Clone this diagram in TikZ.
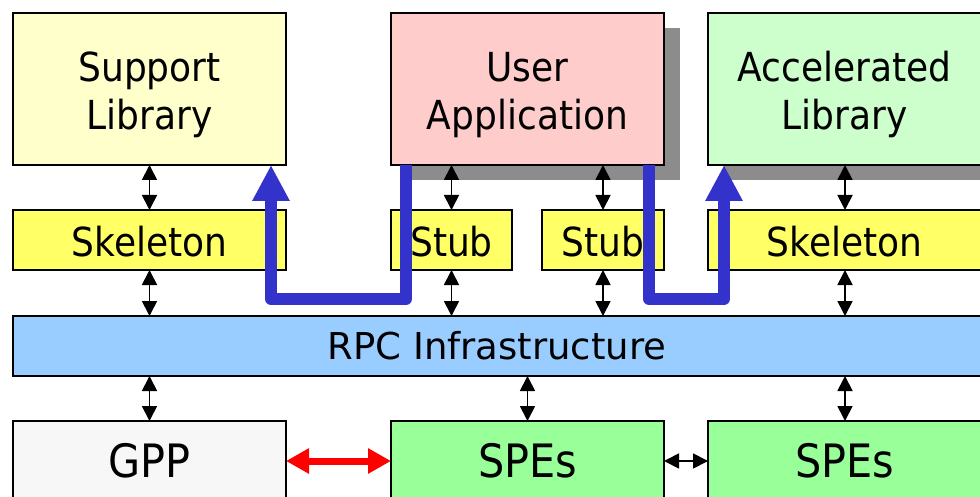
\documentclass[tikz,border=0pt]{standalone}
\usepackage{fontspec}
\setmainfont{DejaVu Sans}
\newfontfamily\condfont{DejaVu Sans Condensed}
\usetikzlibrary{arrows.meta}
\definecolor{supc}{HTML}{FFFFCC}
\definecolor{usrc}{HTML}{FFCCCC}
\definecolor{accc}{HTML}{CCFFCC}
\definecolor{skc}{HTML}{FFFF66}
\definecolor{rpcc}{HTML}{99CCFF}
\definecolor{gppc}{HTML}{F7F7F7}
\definecolor{spec}{HTML}{99FF99}
\definecolor{shc}{HTML}{8C8C8C}
\definecolor{bluc}{HTML}{3333CC}
\tikzset{
  box/.style={draw=black, line width=1.8pt, inner sep=0pt, outer sep=0pt},
  lbl/.style={inner sep=0pt, anchor=base, align=center, font=\condfont\fontsize{40}{48}\selectfont},
  biglbl/.style={inner sep=0pt, anchor=base, font=\condfont\fontsize{46}{50}\selectfont},
  rpclbl/.style={inner sep=0pt, anchor=base, font=\fontsize{37}{44}\selectfont},
  biarrow/.style={line width=1.8pt, {Triangle[width=15pt,length=15pt]}-{Triangle[width=15pt,length=15pt]}},
  redarrow/.style={draw=red, line width=7pt, {Triangle[width=24pt,length=23pt]}-{Triangle[width=24pt,length=23pt]}},
  bluearrow/.style={draw=bluc, line width=12pt, line join=round, -{Triangle[width=35pt,length=36pt]}},
  shadow/.style={fill=shc, draw=none}
}
\begin{document}
\begin{tikzpicture}[x=1pt,y=-1pt]
\useasboundingbox (0,0) rectangle (980,497);
\clip (0,0) rectangle (980,497);
% shadows
\fill[shadow] (407,28) rectangle (680,180);
\fill[shadow] (724,28) rectangle (1010,180);
% top row
\node[box, fill=supc, minimum width=273pt, minimum height=152pt] (sup) at (149.5,89) {};
\node[box, fill=usrc, minimum width=273pt, minimum height=152pt] (usr) at (527.5,89) {};
\node[box, fill=accc, minimum width=273pt, minimum height=152pt, anchor=west] (acc) at (708,89) {};
\node[lbl] (supt) at (149.5,130) {Support\\Library};
\node[lbl] (usrt) at (527.5,130) {User\\Application};
\node[lbl] (acct) at (844.5,130) {Accelerated\\Library};
% second row
\node[box, fill=skc, minimum width=273pt, minimum height=60pt] (skl) at (149.5,240) {};
\node[box, fill=skc, minimum width=121pt, minimum height=60pt] (st1) at (451.5,240) {};
\node[box, fill=skc, minimum width=122pt, minimum height=60pt] (st2) at (603,240) {};
\node[box, fill=skc, minimum width=273pt, minimum height=60pt, anchor=west] (skr) at (708,240) {};
\node[lbl] (sklt) at (149.5,257) {Skeleton};
\node[lbl] (st1t) at (451.5,257) {Stub};
\node[lbl] (st2t) at (603,257) {Stub};
\node[lbl] (skrt) at (844.5,257) {Skeleton};
% RPC
\node[box, fill=rpcc, minimum width=1000pt, minimum height=60pt, anchor=west] (rpc) at (13,346) {};
\node[rpclbl] (rpct) at (497,359) {RPC Infrastructure};
% bottom row
\node[box, fill=gppc, minimum width=273pt, minimum height=90pt, anchor=north] (gpp) at (149.5,421) {};
\node[box, fill=spec, minimum width=273pt, minimum height=90pt, anchor=north] (spe1) at (527.5,421) {};
\node[box, fill=spec, minimum width=273pt, minimum height=90pt, anchor=north west] (spe2) at (708,421) {};
\node[biglbl] (gppt) at (149.5,477) {GPP};
\node[biglbl] (spe1t) at (527.5,477) {SPEs};
\node[biglbl] (spe2t) at (845,477) {SPEs};
% black bidirectional arrows
\draw[biarrow] (sup.south -| skl.north) -- (skl.north);
\draw[biarrow] (skl.south) -- (skl.south |- rpc.north);
\draw[biarrow] (usr.south -| st1.north) -- (st1.north);
\draw[biarrow] (st1.south) -- (st1.south |- rpc.north);
\draw[biarrow] (usr.south -| st2.north) -- (st2.north);
\draw[biarrow] (st2.south) -- (st2.south |- rpc.north);
\coordinate (skrx) at (845,240);
\draw[biarrow] (acc.south -| skrx) -- (skr.north -| skrx);
\draw[biarrow] (skr.south -| skrx) -- (rpc.north -| skrx);
\draw[biarrow] (rpc.south -| gpp.north) -- (gpp.north);
\draw[biarrow] (rpc.south -| spe1.north) -- (spe1.north);
\draw[biarrow] (rpc.south -| skrx) -- (spe2.north -| skrx);
\coordinate (midy) at (0,461);
\draw[biarrow] (spe1.east |- midy) -- (spe2.west |- midy);
\draw[redarrow] (gpp.east |- midy) -- (spe1.west |- midy);
% blue arrows
\coordinate (bl) at (271,299);
\coordinate (br) at (724,299);
\draw[bluearrow] ([xshift=15pt]usr.south west) |- (bl) -- (bl |- sup.south);
\draw[bluearrow] ([xshift=-15pt]usr.south east) |- (br) -- (br |- acc.south);
\end{tikzpicture}
\end{document}
